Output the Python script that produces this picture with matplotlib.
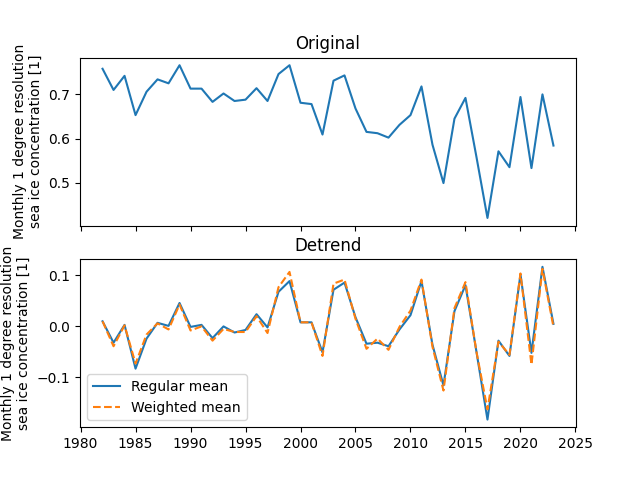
import matplotlib
matplotlib.use("Agg")
import matplotlib.pyplot as plt
from matplotlib.ticker import MultipleLocator

years = list(range(1982, 2024))
original = [0.758, 0.710, 0.742, 0.653, 0.706, 0.734, 0.725, 0.766, 0.713, 0.713,
            0.683, 0.702, 0.685, 0.688, 0.714, 0.685, 0.746, 0.766, 0.681, 0.678,
            0.609, 0.731, 0.743, 0.668, 0.615, 0.612, 0.602, 0.631, 0.653, 0.718,
            0.586, 0.499, 0.645, 0.692, 0.558, 0.420, 0.571, 0.535, 0.694, 0.533,
            0.700, 0.584]
regular = [0.010, -0.032, 0.003, -0.083, -0.024, 0.007, 0.001, 0.046, -0.001, 0.003,
           -0.023, 0.000, -0.012, -0.007, 0.024, -0.002, 0.068, 0.089, 0.008, 0.008,
           -0.051, 0.072, 0.086, 0.018, -0.034, -0.032, -0.039, -0.006, 0.022, 0.089,
           -0.036, -0.116, 0.030, 0.081, -0.050, -0.183, -0.028, -0.058, 0.102, -0.052,
           0.117, 0.005]
weighted = [0.010, -0.039, 0.002, -0.073, -0.016, 0.006, -0.006, 0.043, -0.008, 0.000,
            -0.028, -0.005, -0.011, -0.011, 0.020, -0.013, 0.077, 0.107, 0.008, 0.008,
            -0.058, 0.084, 0.092, 0.015, -0.044, -0.024, -0.046, -0.001, 0.031, 0.092,
            -0.040, -0.126, 0.036, 0.087, -0.050, -0.163, -0.030, -0.056, 0.104, -0.075,
            0.113, -0.001]

ylabel = "Monthly 1 degree resolution\nsea ice concentration [1]"

fig, (ax1, ax2) = plt.subplots(2, 1, sharex=True, figsize=(6.4, 4.8), dpi=100)
ax1.plot(years, original, color="C0")
ax1.set_title("Original")
ax1.set_ylabel(ylabel)

ax2.plot(years, regular, color="C0", label="Regular mean")
ax2.plot(years, weighted, color="C1", linestyle="--", label="Weighted mean")
ax2.set_title("Detrend")
ax2.set_ylabel(ylabel)
ax2.legend(loc="lower left")
ax2.xaxis.set_major_locator(MultipleLocator(5))

fig.savefig("out.png")
